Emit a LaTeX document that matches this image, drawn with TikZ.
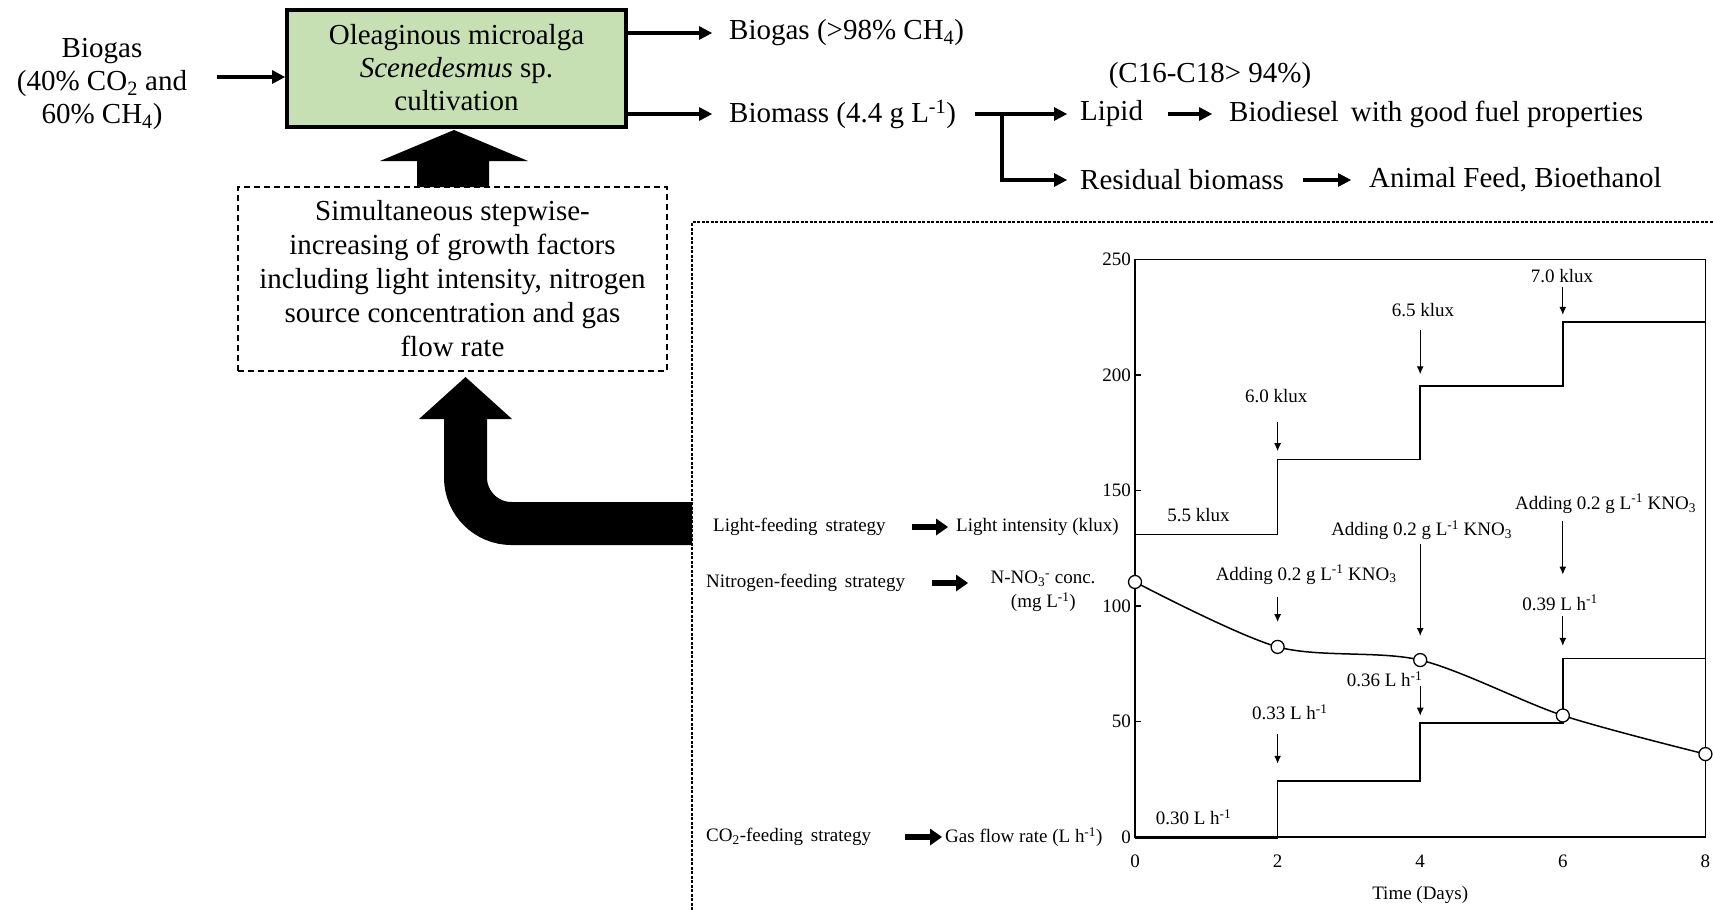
\documentclass[tikz,border=0pt]{standalone}
\usepackage{fontspec}
\setmainfont{Liberation Serif}
\usepackage{tikz}
\usetikzlibrary{arrows.meta}
\usetikzlibrary{positioning}
\usetikzlibrary{calc}
\definecolor{algagreen}{RGB}{198,224,180}
\tikzset{
	bigtext/.style={align=center, inner sep=0pt, font=\fontsize{29}{33}\selectfont},
	algabox/.style={draw=black, line width=4pt, fill=algagreen, bigtext,
		minimum width=339pt, minimum height=117pt},
	factorbox/.style={draw=black, line width=1.3pt, dash pattern=on 6pt off 4pt,
		align=center, inner sep=0pt, font=\fontsize{29}{34}\selectfont,
		minimum width=429pt, minimum height=184pt},
	flow/.style={draw=black, line width=3.5pt,
		-{Triangle[length=13pt,width=14pt,line width=0pt]}},
	feedflow/.style={draw=black, line width=6pt,
		-{Triangle[length=12pt,width=17pt,line width=0pt]}},
	pointer/.style={draw=black, line width=1.3pt, -{Latex[length=8pt,width=7pt]}},
	chartfont/.style={font=\fontsize{19}{22}\selectfont},
	axisline/.style={draw=black, line width=1.5pt},
	curve/.style={draw=black, line width=1.5pt},
	datapoint/.style={draw=black, line width=1.3pt, fill=white, circle,
		minimum size=13pt, inner sep=0pt},
	framebox/.style={draw=black, line width=1.2pt, dash pattern=on 3pt off 1.5pt},
}
\tikzstyle{label} = [inner sep=0pt, anchor=west]

\begin{document}
\begin{tikzpicture}[x=1pt,y=-1pt]
	\useasboundingbox (0,0) rectangle (1713,910);
	% Cultivation
	\node [algabox] (alga) at (456.5,68) {Oleaginous microalga\\\textit{Scenedesmus} sp.\\cultivation};
	\node [bigtext] (biogasin) at (102,84) {Biogas\\(40\% CO\textsubscript{2} and\\60\% CH\textsubscript{4})};
	\coordinate (in) at (217,77);
	\draw [flow] (in) -- (in -| alga.west);
	% Products
	\coordinate (gasout) at (712,33);
	\coordinate (massout) at (712,114);
	\draw [flow] (gasout -| alga.east) -- (gasout);
	\draw [flow] (massout -| alga.east) -- (massout);
	\node [label, font=\fontsize{29}{33}\selectfont] (biogasout) at (729,33) {Biogas (>98\% CH\textsubscript{4})};
	\node [label, font=\fontsize{29}{33}\selectfont] (biomass) at (729,114) {Biomass (4.4 g L\textsuperscript{-1})};
	\node [bigtext] (fatty) at (1210,76) {(C16-C18> 94\%)};
	\node [label, font=\fontsize{29}{33}\selectfont] (lipid) at (1080,114) {Lipid};
	\node [label, font=\fontsize{29}{33}\selectfont] (residual) at (1080,180) {Residual biomass};
	\node [label, font=\fontsize{29}{33}\selectfont] (biodiesel) at (1229,114) {Biodiesel\, with good fuel properties};
	\node [label, font=\fontsize{29}{33}\selectfont] (feed) at (1369,180) {Animal Feed, Bioethanol};
	\coordinate (split) at (975,114);
	\coordinate (fork) at (1002,114);
	\draw [flow, shorten >=13pt] (split) -- (lipid.west);
	\draw [flow, shorten >=13pt] (fork) |- (residual.west);
	\draw [flow] (1168,114) -- (1212,114);
	\draw [flow] (1303,180) -- (1351,180);
	% Growth factors
	\node [factorbox] (factors) at (452.5,279) {Simultaneous stepwise-\\increasing of growth factors\\including light intensity, nitrogen\\source concentration and gas\\flow rate};
	\fill (417,187) -- (417,161) -- (380,161) -- (454,130) -- (528,161) -- (489,161) -- (489,187) -- cycle;
	% Feeding strategies
	\draw [framebox] (692,910) -- (692,222) -- (1713,222);
	\coordinate (feedin) at (692,523.5);
	\draw [line width=43pt, rounded corners=46pt] (feedin) -- (465.5,523.5) -- (465.5,418);
	\fill (419,419) -- (465.5,377) -- (512,419) -- cycle;
	\node [label, chartfont] (lightfeed) at (713,527) {Light-feeding\, strategy};
	\node [label, chartfont] (lightaxis) at (956,527) {Light intensity (klux)};
	\draw [feedflow] (912,527) -- (948,527);
	\node [label, chartfont] (nitrofeed) at (706,583) {Nitrogen-feeding\, strategy};
	\node [chartfont, inner sep=0pt] (nitroaxis) at (1043,579) {N-NO\textsubscript{3}\textsuperscript{-} conc.};
	\node [chartfont, inner sep=0pt, anchor=east] (nitrounit) at (1076,602) {(mg L\textsuperscript{-1})};
	\draw [feedflow] (932,583) -- (968,583);
	\node [label, chartfont] (gasfeed) at (706,837) {CO\textsubscript{2}-feeding\, strategy};
	\node [label, chartfont] (gasaxis) at (945,837) {Gas flow rate (L h\textsuperscript{-1})};
	\draw [feedflow] (905,837) -- (942,837);
	% Chart
	\begin{scope}[shift={(1135,837)}, x=71.3pt, y=2.31pt, chartfont]
		\draw [axisline] (0,0) rectangle (8,250);
		\foreach \v in {0,50,...,250} {
			\draw [axisline] (0,\v) -- (0.085,\v);
			\node [anchor=east, inner sep=1pt] (ytick\v) at (-0.04,\v) {\v};
		}
		\foreach \d in {0,2,4,6,8}
			\node (xtick\d) at (\d,-10.5) {\d};
		\node (timelabel) at (4,-25) {Time (Days)};
		% light intensity
		\draw [curve] (0,131) -- (2,131) -- (2,163.5) -- (4,163.5) -- (4,195.3) -- (6,195.3) -- (6,223) -- (8,223);
		% gas flow rate
		\draw [curve, line width=3pt] (0,0) -- (2,0);
		\draw [curve] (2,0) -- (2,24.3) -- (4,24.3) -- (4,49.3) -- (6,49.3) -- (6,77.2) -- (8,77.2);
		% nitrate
		\draw [curve] plot [smooth] coordinates {(0,110.4) (2,82.3) (4,76.6) (6,52.6) (8,35.9)};
		\foreach \d/\v in {0/110.4, 2/82.3, 4/76.6, 6/52.6, 8/35.9}
			\node [datapoint] (no\d) at (\d,\v) {};
		% labels
		\node (lux55) at (0.89,139.3) {5.5 klux};
		\node (lux60) at (1.98,191) {6.0 klux};
		\node (lux65) at (4.04,228.3) {6.5 klux};
		\node (lux70) at (5.99,242.9) {7.0 klux};
		\draw [pointer] (2,179.6) -- (2,167);
		\draw [pointer] (4,219.4) -- (4,200.3);
		\draw [pointer] (6,238) -- (6,226);
		\node (kno2) at (2.4,113.6) {Adding 0.2 g L\textsuperscript{-1} KNO\textsubscript{3}};
		\node (kno4) at (4.02,132.9) {Adding 0.2 g L\textsuperscript{-1} KNO\textsubscript{3}};
		\node (kno6) at (6.6,144.3) {Adding 0.2 g L\textsuperscript{-1} KNO\textsubscript{3}};
		\draw [pointer] (2,104) -- (2,93);
		\draw [pointer] (4,127) -- (4,87);
		\draw [pointer] (6,137) -- (6,113.6);
		\node (rate30) at (0.82,8.6) {0.30 L h\textsuperscript{-1}};
		\node (rate33) at (2.17,54) {0.33 L h\textsuperscript{-1}};
		\node (rate36) at (3.5,68.3) {0.36 L h\textsuperscript{-1}};
		\node (rate39) at (5.96,101.4) {0.39 L h\textsuperscript{-1}};
		\draw [pointer] (2,44.6) -- (2,31.7);
		\draw [pointer] (4,65.2) -- (4,52.5);
		\draw [pointer] (6,95.7) -- (6,82.7);
	\end{scope}
\end{tikzpicture}
\end{document}
